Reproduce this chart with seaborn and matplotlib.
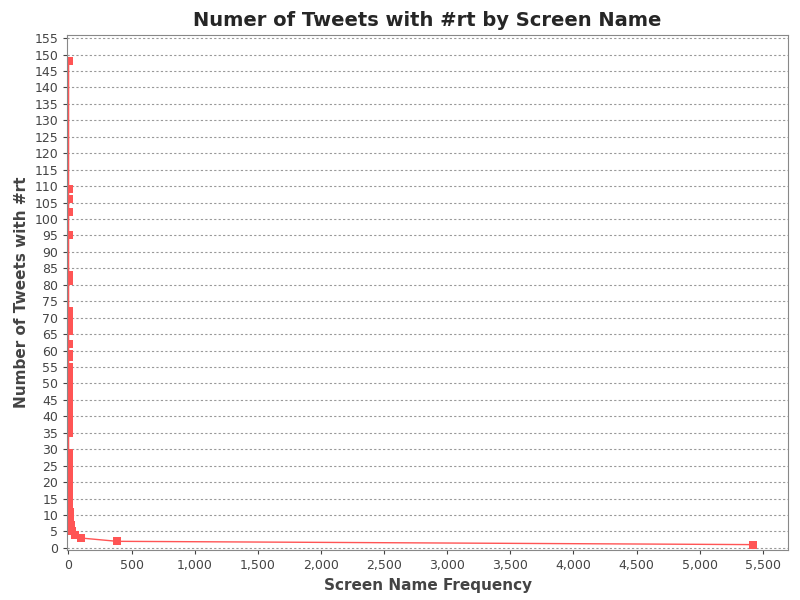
import matplotlib
matplotlib.use("Agg")
import matplotlib.pyplot as plt
import matplotlib.ticker as mticker
import seaborn as sns
import pandas as pd

# number of tweets with #rt vs how many screen names have that count
tweets = [148, 109, 106, 102, 95, 83, 81, 72, 70, 68, 66, 62, 59, 58, 55, 53, 51, 49, 47, 45,
          43, 41, 40, 39, 38, 37, 36, 35, 29, 28, 27, 26, 25, 24, 23, 22, 21, 20, 19, 18,
          17, 16, 15, 14, 13, 12, 11, 10, 9, 8, 7, 6, 5, 4, 3, 2, 1]
freq = [1, 1, 1, 1, 1, 1, 1, 1, 1, 1, 1, 1, 1, 1, 1, 1, 1, 1, 1, 1,
        1, 1, 1, 1, 1, 1, 1, 1, 1, 2, 2, 2, 2, 2, 3, 3, 3, 3, 4, 4,
        4, 5, 5, 6, 7, 8, 9, 10, 12, 14, 17, 22, 30, 55, 100, 385, 5420]

df = pd.DataFrame({"freq": freq, "tweets": tweets})

sns.set_style("white")
plt.rcParams["font.family"] = ["DejaVu Sans"]
fig, ax = plt.subplots(figsize=(8, 6), dpi=100)
fig.subplots_adjust(left=0.084, right=0.985, top=0.942, bottom=0.083)

sns.lineplot(data=df, x="freq", y="tweets", sort=False, ax=ax, color="#ff5555",
             linewidth=1, marker="s", markersize=5.5, markeredgewidth=0, estimator=None)

ax.set_xlim(-10, 5700)
ax.set_ylim(-0.7, 156)
ax.yaxis.set_major_locator(mticker.MultipleLocator(5))
ax.xaxis.set_major_locator(mticker.MultipleLocator(500))
ax.xaxis.set_major_formatter(mticker.FuncFormatter(lambda v, p: f"{int(v):,}"))
ax.grid(axis="y", color="#999999", linestyle=(0, (2, 2)), linewidth=0.8)
ax.tick_params(labelsize=9, colors="#444444", length=3, left=True, bottom=True)
for s in ax.spines.values():
    s.set_color("#888888")

ax.set_title("Numer of Tweets with #rt by Screen Name", fontsize=14, fontweight="bold")
ax.set_xlabel("Screen Name Frequency", fontsize=11, fontweight="bold", color="#444444")
ax.set_ylabel("Number of Tweets with #rt", fontsize=11, fontweight="bold", color="#444444")

fig.savefig("out.png")
